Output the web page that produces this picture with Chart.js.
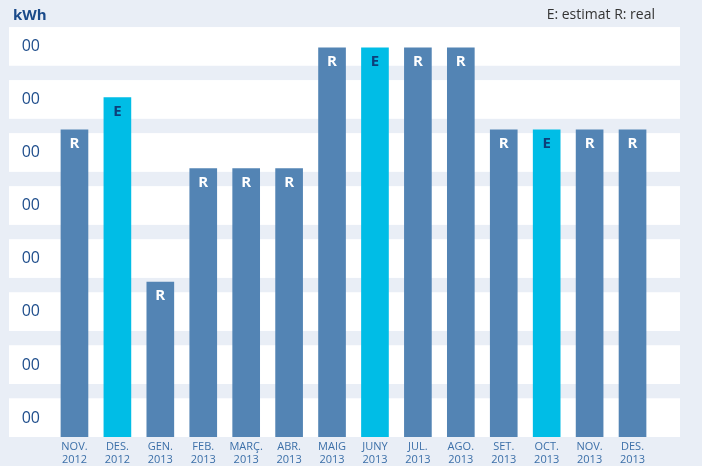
<!DOCTYPE html>
<html>
<head>
<meta charset="utf-8">
<script src="https://cdn.jsdelivr.net/npm/chart.js@4/dist/chart.umd.min.js"></script>
<style>
  html, body { margin: 0; padding: 0; background: #fff; }
  #wrap { width: 708px; height: 466px; }
</style>
</head>
<body>
<div id="wrap"><canvas id="bar-chart"></canvas></div>
<script>
// months (two line labels)
var months = [
	["NOV.", "2012"], ["DES.", "2012"], ["GEN.", "2013"], ["FEB.", "2013"],
	["MARÇ.", "2013"], ["ABR.", "2013"], ["MAIG", "2013"], ["JUNY", "2013"],
	["JUL.", "2013"], ["AGO.", "2013"], ["SET.", "2013"], ["OCT.", "2013"],
	["NOV.", "2013"], ["DES.", "2013"]
];
// consumption, in axis steps
var consum = [5.79, 6.40, 2.92, 5.06, 5.06, 5.06, 7.34, 7.34, 7.34, 7.34, 5.79, 5.79, 5.79, 5.79];
// E = estimat, R = real
var lectura = ["R", "E", "R", "R", "R", "R", "R", "E", "R", "R", "R", "E", "R", "R"];
// y ticks
var yTicks = [0, 1, 2, 3, 4, 5, 6, 7];
var yTickLabels = ["00", "00", "00", "00", "00", "00", "00", "00"];

var blau = "#5384b4";
var cian = "#00bde6";

var fons = {
	id: "fons",
	beforeDraw: function (chart) {
		var ctx = chart.ctx;
		var y = chart.scales.y;
		ctx.save();
		ctx.fillStyle = "#ffffff";
		ctx.fillRect(0, 0, chart.width, chart.height);
		ctx.fillStyle = "#e9eef6";
		ctx.fillRect(0, 0, 702, chart.height);
		ctx.fillStyle = "#ffffff";
		yTicks.forEach(function (v) {
			var top = y.getPixelForValue(v + 0.73);
			var bot = y.getPixelForValue(v);
			ctx.fillRect(9, top, 680 - 9, bot - top);
		});
		ctx.restore();
	},
	afterDatasetsDraw: function (chart) {
		var ctx = chart.ctx;
		var meta = chart.getDatasetMeta(0);
		ctx.save();
		ctx.font = "bold 15px 'Open Sans'";
		ctx.textAlign = "center";
		ctx.textBaseline = "middle";
		meta.data.forEach(function (bar, i) {
			ctx.fillStyle = lectura[i] === "E" ? "#0d3f7a" : "#ffffff";
			ctx.fillText(lectura[i], bar.x, bar.y + 14);
		});
		// header texts
		ctx.font = "bold 15px 'Open Sans'";
		ctx.textAlign = "left";
		ctx.fillStyle = "#1a4a8a";
		ctx.fillText("kWh", 13, 16);
		ctx.font = "14px 'Open Sans'";
		ctx.textAlign = "right";
		ctx.fillStyle = "#333333";
		ctx.fillText("E: estimat R: real", 655, 15);
		ctx.restore();
	}
};

new Chart(document.getElementById("bar-chart"), {
	type: 'bar',
	data: {
		labels: months,
		datasets: [
			{
				data: consum,
				backgroundColor: lectura.map(function (l) { return l === "E" ? cian : blau; }),
				barThickness: 27
			}
		]
	},
	options: {
		responsive: true,
		maintainAspectRatio: false,
		animation: false,
		layout: { padding: { top: 26, right: 54, left: 0, bottom: 0 } },
		plugins: {
			legend: { display: false },
			title: { display: false },
			tooltip: { enabled: false }
		},
		scales: {
			x: {
				grid: { display: false, drawTicks: false },
				border: { display: false },
				ticks: {
					color: "#3b6fa8",
					font: { family: "Open Sans", size: 11 },
					padding: 3,
					maxRotation: 0,
					autoSkip: false
				},
				afterFit: function (s) { s.height = 29; }
			},
			y: {
				min: 0,
				max: 7.75,
				grid: { display: false, drawTicks: false },
				border: { display: false },
				afterBuildTicks: function (s) {
					s.ticks = yTicks.map(function (v) { return { value: v }; });
				},
				ticks: {
					color: "#1f4e8c",
					font: { family: "Open Sans", size: 16 },
					padding: 13,
					labelOffset: -19,
					callback: function (v, i) { return yTickLabels[i]; }
				},
				afterFit: function (s) { s.width = 53; }
			}
		}
	},
	plugins: [fons]
});
</script>
</body>
</html>
